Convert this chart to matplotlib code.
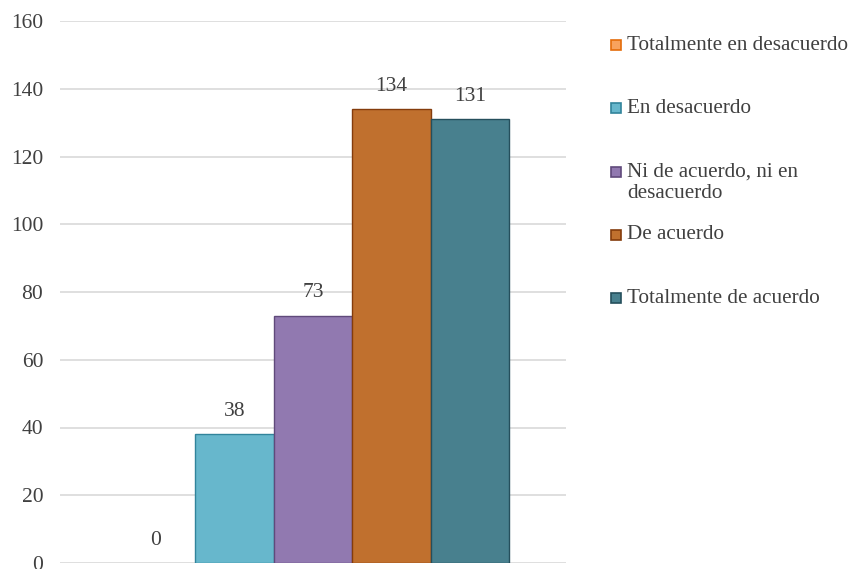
import matplotlib
matplotlib.use("Agg")
import matplotlib.pyplot as plt
from matplotlib.patches import Rectangle

series_names = ["Totalmente en desacuerdo", "En desacuerdo",
                "Ni de acuerdo, ni en\ndesacuerdo", "De acuerdo",
                "Totalmente de acuerdo"]
values = [0, 38, 73, 134, 131]
fill_colors = ["#F8A25E", "#67B7CC", "#9179B0", "#C0702E", "#48808E"]
edge_colors = ["#E46C0A", "#31849B", "#604A7B", "#843C0C", "#254F5C"]
yticks = [0, 20, 40, 60, 80, 100, 120, 140, 160]

plt.rcParams['font.family'] = ['Liberation Serif', 'DejaVu Serif']
text_color = "#404040"
fs = 15.5
legend_fs = 15.2

W, H = 850, 569
fig = plt.figure(figsize=(W / 100, H / 100), dpi=100)
ax = fig.add_axes([60 / W, (H - 563) / H, (566 - 60) / W, (563 - 21) / H])

n = len(values)
width = 78.5 / 506
for i, (v, fc, ec) in enumerate(zip(values, fill_colors, edge_colors)):
    x = (i - (n - 1) / 2) * width
    ax.bar(x, v, width=width, color=fc, edgecolor=ec,
           linewidth=1.0 if v > 0 else 0, zorder=3)
    ax.annotate(str(v), (x, v), xytext=(0, 16.5), textcoords="offset points",
                ha="center", va="center", fontsize=fs, color=text_color)

ax.set_xlim(-0.5, 0.5)
ax.set_ylim(0, 160)
ax.set_yticks(yticks)
ax.set_xticks([])
ax.yaxis.grid(True, color="#D9D9D9", linewidth=1.2, zorder=0)
ax.set_axisbelow(True)
for s in ax.spines.values():
    s.set_visible(False)
ax.tick_params(axis="y", length=0, pad=12, labelsize=fs, labelcolor=text_color)

# legend (manual, Excel-like fixed pitch, marker aligned with first line)
pitch = 63.3
y0 = 45
line_h = 22
for i, (name, fc, ec) in enumerate(zip(series_names, fill_colors, edge_colors)):
    yc = y0 + i * pitch
    fig.patches.append(Rectangle((611 / W, (H - yc - 5) / H), 10 / W, 10 / H,
                                 transform=fig.transFigure, facecolor=fc,
                                 edgecolor=ec, linewidth=1.2))
    for k, line in enumerate(name.split("\n")):
        fig.text(627 / W, (H - yc - k * line_h) / H, line, ha="left", va="center",
                 fontsize=legend_fs, color=text_color)

fig.savefig("out.png", dpi=100)
